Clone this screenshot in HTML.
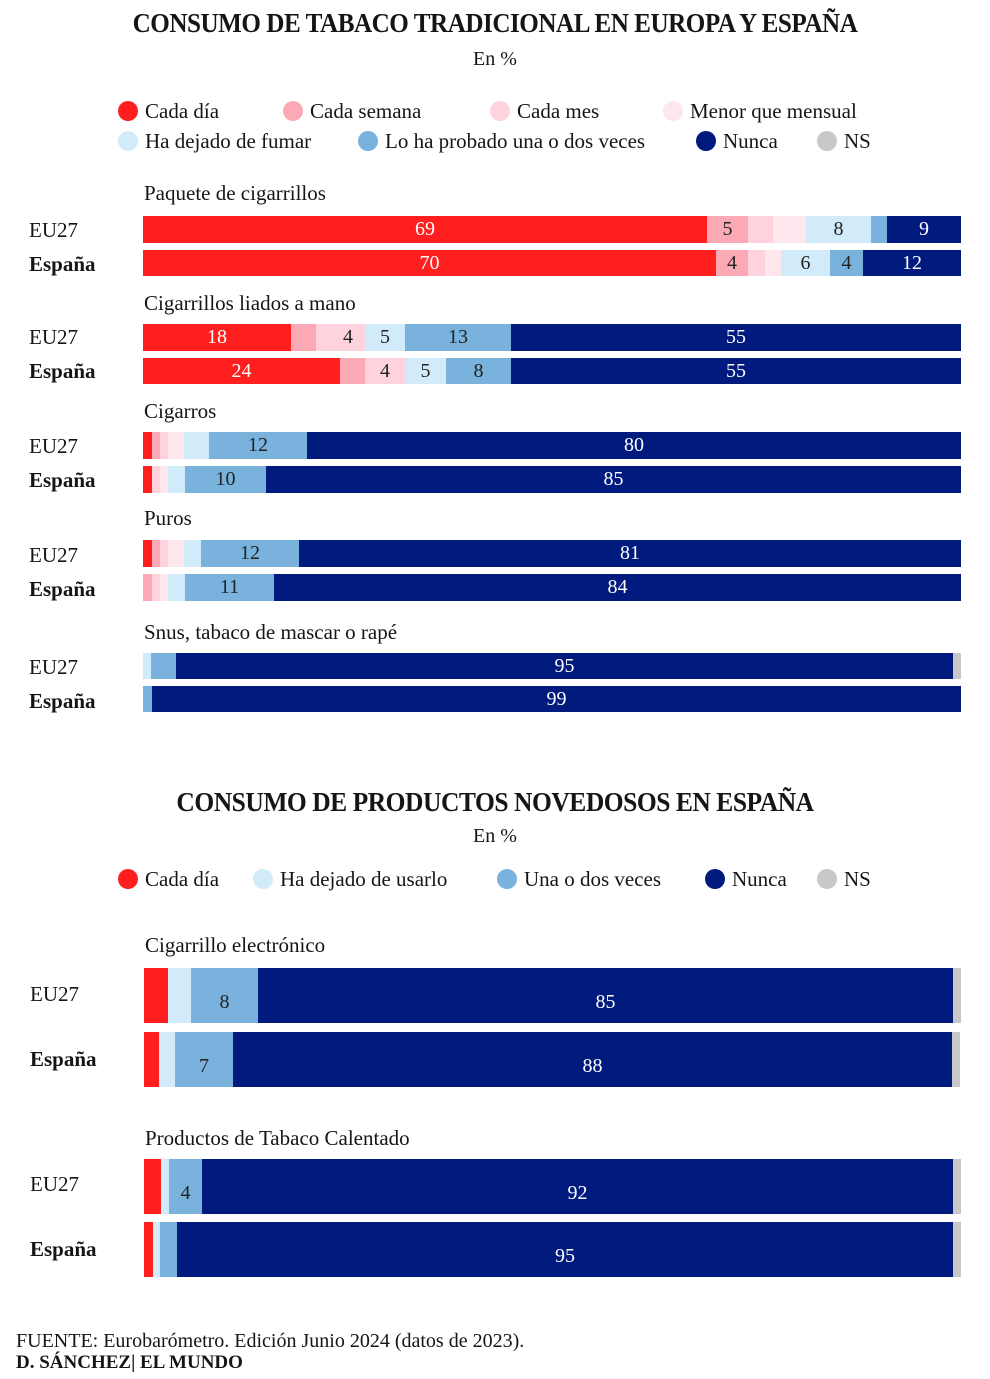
<!DOCTYPE html>
<html><head><meta charset="utf-8"><style>
body{margin:0;width:990px;height:1379px;background:#fff;position:relative;font-family:"Liberation Serif",serif;color:#151515;overflow:hidden}
.a{position:absolute}
.t{position:absolute;white-space:nowrap}
.s{position:absolute;display:flex;align-items:center;justify-content:center;font-size:20px;color:#222;overflow:visible}
.w{color:#fff}
.R{background:#ff1f1f}.P{background:#fba9b5}.L{background:#ffd3de}.V{background:#fde6ec}.B{background:#d2ebfa}.M{background:#78b2dd}.N{background:#001a7d}.G{background:#c8c8c8}
.d{display:inline-block;width:20px;height:20px;border-radius:50%;vertical-align:-3px;margin-right:7px}
.lg{font-size:21px}
.rl{font-size:21px}
.ti{transform-origin:495px 0}
</style></head><body>
<div class="t ti" style="left:0;width:990px;text-align:center;top:8px;font-size:27px;font-weight:bold;letter-spacing:-0.5px;transform:scaleX(0.93)">CONSUMO DE TABACO TRADICIONAL EN EUROPA Y ESPAÑA</div>
<div class="t" style="left:0;width:990px;text-align:center;top:48px;font-size:20px">En %</div>
<div class="t lg" style="left:118px;top:99px"><span class="d R"></span>Cada día</div>
<div class="t lg" style="left:283px;top:99px"><span class="d P"></span>Cada semana</div>
<div class="t lg" style="left:490px;top:99px"><span class="d L"></span>Cada mes</div>
<div class="t lg" style="left:663px;top:99px"><span class="d V"></span>Menor que mensual</div>
<div class="t lg" style="left:118px;top:129px"><span class="d B"></span>Ha dejado de fumar</div>
<div class="t lg" style="left:358px;top:129px"><span class="d M"></span>Lo ha probado una o dos veces</div>
<div class="t lg" style="left:696px;top:129px"><span class="d N"></span>Nunca</div>
<div class="t lg" style="left:817px;top:129px"><span class="d G"></span>NS</div>

<div class="t rl" style="left:144px;top:181px">Paquete de cigarrillos</div>
<div class="t rl" style="left:29px;top:218px">EU27</div>
<div class="t rl" style="left:29px;top:252px;font-weight:bold">España</div>
<div class="s R w" style="left:143px;top:216px;width:564px;height:27px">69</div>
<div class="s P" style="left:707px;top:216px;width:41px;height:27px">5</div>
<div class="s L" style="left:748px;top:216px;width:25px;height:27px"></div>
<div class="s V" style="left:773px;top:216px;width:33px;height:27px"></div>
<div class="s B" style="left:806px;top:216px;width:65px;height:27px">8</div>
<div class="s M" style="left:871px;top:216px;width:16px;height:27px"></div>
<div class="s N w" style="left:887px;top:216px;width:74px;height:27px">9</div>
<div class="s R w" style="left:143px;top:250px;width:573px;height:26px">70</div>
<div class="s P" style="left:716px;top:250px;width:32px;height:26px">4</div>
<div class="s L" style="left:748px;top:250px;width:17px;height:26px"></div>
<div class="s V" style="left:765px;top:250px;width:16px;height:26px"></div>
<div class="s B" style="left:781px;top:250px;width:49px;height:26px">6</div>
<div class="s M" style="left:830px;top:250px;width:33px;height:26px">4</div>
<div class="s N w" style="left:863px;top:250px;width:98px;height:26px">12</div>

<div class="t rl" style="left:144px;top:291px">Cigarrillos liados a mano</div>
<div class="t rl" style="left:29px;top:325px">EU27</div>
<div class="t rl" style="left:29px;top:359px;font-weight:bold">España</div>
<div class="s R w" style="left:143px;top:324px;width:148px;height:27px">18</div>
<div class="s P" style="left:291px;top:324px;width:25px;height:27px"></div>
<div class="s L" style="left:316px;top:324px;width:49px;height:27px">&nbsp;&nbsp;&nbsp;4</div>
<div class="s B" style="left:365px;top:324px;width:40px;height:27px">5</div>
<div class="s M" style="left:405px;top:324px;width:106px;height:27px">13</div>
<div class="s N w" style="left:511px;top:324px;width:450px;height:27px">55</div>
<div class="s R w" style="left:143px;top:358px;width:197px;height:26px">24</div>
<div class="s P" style="left:340px;top:358px;width:25px;height:26px"></div>
<div class="s L" style="left:365px;top:358px;width:40px;height:26px">4</div>
<div class="s B" style="left:405px;top:358px;width:41px;height:26px">5</div>
<div class="s M" style="left:446px;top:358px;width:65px;height:26px">8</div>
<div class="s N w" style="left:511px;top:358px;width:450px;height:26px">55</div>

<div class="t rl" style="left:144px;top:399px">Cigarros</div>
<div class="t rl" style="left:29px;top:434px">EU27</div>
<div class="t rl" style="left:29px;top:468px;font-weight:bold">España</div>
<div class="s R" style="left:143px;top:432px;width:9px;height:27px"></div>
<div class="s P" style="left:152px;top:432px;width:8px;height:27px"></div>
<div class="s L" style="left:160px;top:432px;width:8px;height:27px"></div>
<div class="s V" style="left:168px;top:432px;width:16px;height:27px"></div>
<div class="s B" style="left:184px;top:432px;width:25px;height:27px"></div>
<div class="s M" style="left:209px;top:432px;width:98px;height:27px">12</div>
<div class="s N w" style="left:307px;top:432px;width:654px;height:27px">80</div>
<div class="s R" style="left:143px;top:466px;width:9px;height:27px"></div>
<div class="s L" style="left:152px;top:466px;width:8px;height:27px"></div>
<div class="s V" style="left:160px;top:466px;width:8px;height:27px"></div>
<div class="s B" style="left:168px;top:466px;width:17px;height:27px"></div>
<div class="s M" style="left:185px;top:466px;width:81px;height:27px">10</div>
<div class="s N w" style="left:266px;top:466px;width:695px;height:27px">85</div>

<div class="t rl" style="left:144px;top:506px">Puros</div>
<div class="t rl" style="left:29px;top:543px">EU27</div>
<div class="t rl" style="left:29px;top:577px;font-weight:bold">España</div>
<div class="s R" style="left:143px;top:540px;width:9px;height:27px"></div>
<div class="s P" style="left:152px;top:540px;width:8px;height:27px"></div>
<div class="s L" style="left:160px;top:540px;width:8px;height:27px"></div>
<div class="s V" style="left:168px;top:540px;width:16px;height:27px"></div>
<div class="s B" style="left:184px;top:540px;width:17px;height:27px"></div>
<div class="s M" style="left:201px;top:540px;width:98px;height:27px">12</div>
<div class="s N w" style="left:299px;top:540px;width:662px;height:27px">81</div>
<div class="s P" style="left:143px;top:574px;width:9px;height:27px"></div>
<div class="s L" style="left:152px;top:574px;width:8px;height:27px"></div>
<div class="s V" style="left:160px;top:574px;width:8px;height:27px"></div>
<div class="s B" style="left:168px;top:574px;width:17px;height:27px"></div>
<div class="s M" style="left:185px;top:574px;width:89px;height:27px">11</div>
<div class="s N w" style="left:274px;top:574px;width:687px;height:27px">84</div>

<div class="t rl" style="left:144px;top:620px">Snus, tabaco de mascar o rapé</div>
<div class="t rl" style="left:29px;top:655px">EU27</div>
<div class="t rl" style="left:29px;top:689px;font-weight:bold">España</div>
<div class="s B" style="left:143px;top:653px;width:8px;height:26px"></div>
<div class="s M" style="left:151px;top:653px;width:25px;height:26px"></div>
<div class="s N w" style="left:176px;top:653px;width:777px;height:26px">95</div>
<div class="s G" style="left:953px;top:653px;width:8px;height:26px"></div>
<div class="s M" style="left:143px;top:686px;width:9px;height:26px"></div>
<div class="s N w" style="left:152px;top:686px;width:809px;height:26px">99</div>

<div class="t ti" style="left:0;width:990px;text-align:center;top:787px;font-size:27px;font-weight:bold;letter-spacing:-0.5px;transform:scaleX(0.945)">CONSUMO DE PRODUCTOS NOVEDOSOS EN ESPAÑA</div>
<div class="t" style="left:0;width:990px;text-align:center;top:825px;font-size:20px">En %</div>
<div class="t lg" style="left:118px;top:867px"><span class="d R"></span>Cada día</div>
<div class="t lg" style="left:253px;top:867px"><span class="d B"></span>Ha dejado de usarlo</div>
<div class="t lg" style="left:497px;top:867px"><span class="d M"></span>Una o dos veces</div>
<div class="t lg" style="left:705px;top:867px"><span class="d N"></span>Nunca</div>
<div class="t lg" style="left:817px;top:867px"><span class="d G"></span>NS</div>

<div class="t rl" style="left:145px;top:933px">Cigarrillo electrónico</div>
<div class="t rl" style="left:30px;top:982px">EU27</div>
<div class="t rl" style="left:30px;top:1047px;font-weight:bold">España</div>
<div class="s R" style="left:144px;top:968px;width:24px;height:55px"></div>
<div class="s B" style="left:168px;top:968px;width:23px;height:55px"></div>
<div class="s M" style="left:191px;top:968px;width:67px;height:55px;padding-top:14px;box-sizing:border-box">8</div>
<div class="s N w" style="left:258px;top:968px;width:695px;height:55px;padding-top:14px;box-sizing:border-box">85</div>
<div class="s G" style="left:953px;top:968px;width:8px;height:55px"></div>
<div class="s R" style="left:144px;top:1032px;width:15px;height:55px"></div>
<div class="s B" style="left:159px;top:1032px;width:16px;height:55px"></div>
<div class="s M" style="left:175px;top:1032px;width:58px;height:55px;padding-top:14px;box-sizing:border-box">7</div>
<div class="s N w" style="left:233px;top:1032px;width:719px;height:55px;padding-top:14px;box-sizing:border-box">88</div>
<div class="s G" style="left:952px;top:1032px;width:8px;height:55px"></div>

<div class="t rl" style="left:145px;top:1126px">Productos de Tabaco Calentado</div>
<div class="t rl" style="left:30px;top:1172px">EU27</div>
<div class="t rl" style="left:30px;top:1237px;font-weight:bold">España</div>
<div class="s R" style="left:144px;top:1159px;width:17px;height:55px"></div>
<div class="s B" style="left:161px;top:1159px;width:8px;height:55px"></div>
<div class="s M" style="left:169px;top:1159px;width:33px;height:55px;padding-top:14px;box-sizing:border-box">4</div>
<div class="s N w" style="left:202px;top:1159px;width:751px;height:55px;padding-top:14px;box-sizing:border-box">92</div>
<div class="s G" style="left:953px;top:1159px;width:8px;height:55px"></div>
<div class="s R" style="left:144px;top:1222px;width:9px;height:55px"></div>
<div class="s B" style="left:153px;top:1222px;width:7px;height:55px"></div>
<div class="s M" style="left:160px;top:1222px;width:17px;height:55px"></div>
<div class="s N w" style="left:177px;top:1222px;width:776px;height:55px;padding-top:14px;box-sizing:border-box">95</div>
<div class="s G" style="left:953px;top:1222px;width:8px;height:55px"></div>

<div class="t" style="left:16px;top:1330px;font-size:20px">FUENTE: Eurobarómetro. Edición Junio 2024 (datos de 2023).</div>
<div class="t" style="left:16px;top:1352px;font-size:19px;font-weight:bold">D. SÁNCHEZ| EL MUNDO</div>
</body></html>
